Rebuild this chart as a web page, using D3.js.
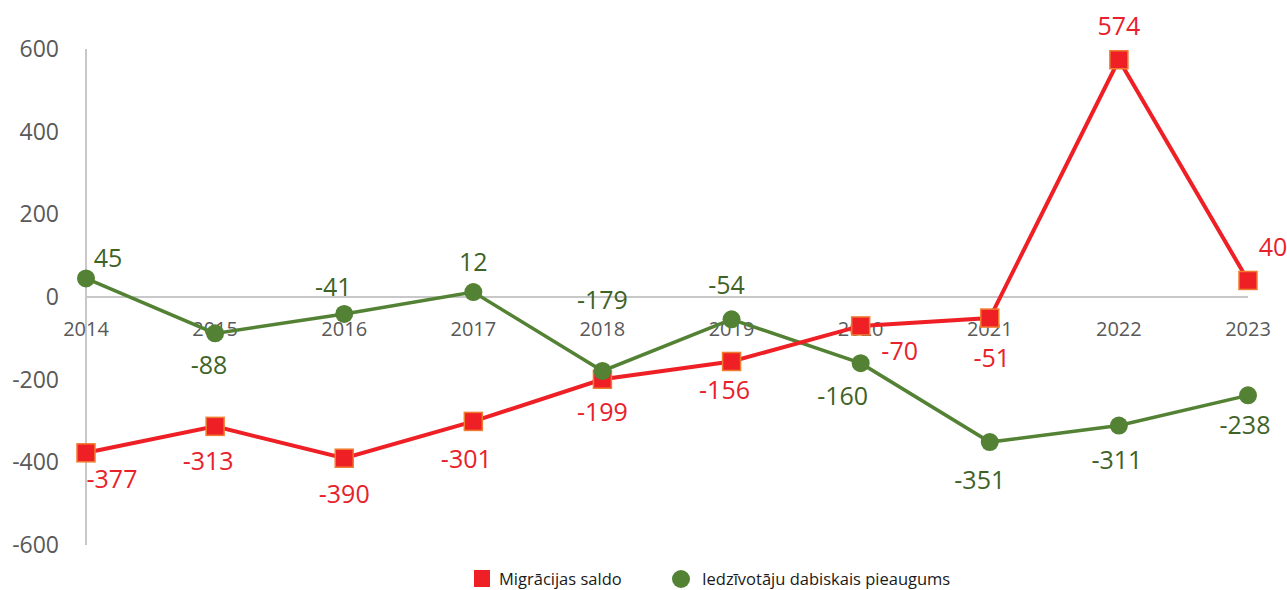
<!DOCTYPE html>
<html>
<head>
<meta charset="utf-8">
<script src="https://cdn.jsdelivr.net/npm/d3@7"></script>
<style>
  body { margin: 0; background: #fff; }
  svg { display: block; font-family: "Open Sans", sans-serif; }
</style>
</head>
<body>
<div id="chart"></div>
<script>
const years = [2014, 2015, 2016, 2017, 2018, 2019, 2020, 2021, 2022, 2023];
const migration = [-377, -313, -390, -301, -199, -156, -70, -51, 574, 40];
const natural = [45, -88, -41, 12, -179, -54, -160, -351, -311, -238];
const yTicks = [-600, -400, -200, 0, 200, 400, 600];

// label offsets (dx, dy) from each point
const migLabelPos = [[26, 26], [-7, 35], [0, 36], [-7, 38], [0, 33], [-7, 29], [39, 25], [2, 40], [0, -33], [25, -33]];
const natLabelPos = [[22, -20], [-6, 32], [-11, -27], [0, -30], [0, -71], [-5, -34], [-18, 33], [-10, 38], [-2, 35], [-3, 30]];

const width = 1287, height = 590;
const svg = d3.select("#chart").append("svg")
  .attr("width", width)
  .attr("height", height);

const x = d3.scalePoint().domain(years).range([86, 1248]);
const y = d3.scaleLinear().domain([-600, 600]).range([545, 49]);

// axes lines
svg.append("line")
  .attr("x1", x(2014)).attr("x2", x(2014))
  .attr("y1", y(600)).attr("y2", y(-600))
  .attr("stroke", "#c8c8c8").attr("stroke-width", 2);

svg.append("line")
  .attr("x1", x(2014)).attr("x2", x(2023))
  .attr("y1", y(0)).attr("y2", y(0))
  .attr("stroke", "#c8c8c8").attr("stroke-width", 2);

svg.append("g")
  .selectAll("text")
  .data(yTicks)
  .join("text")
  .attr("x", 59)
  .attr("y", d => y(d))
  .attr("dy", "0.35em")
  .attr("text-anchor", "end")
  .attr("font-size", "23px")
  .attr("fill", "#595959")
  .text(d => d);

svg.append("g")
  .selectAll("text")
  .data(years)
  .join("text")
  .attr("x", d => x(d))
  .attr("y", y(0) + 32)
  .attr("dy", "0.35em")
  .attr("text-anchor", "middle")
  .attr("font-size", "20px")
  .attr("fill", "#595959")
  .text(d => d);

const line = d3.line()
  .x((d, i) => x(years[i]))
  .y(d => y(d));

// natural growth (green) drawn first
svg.append("path")
  .datum(natural)
  .attr("d", line)
  .attr("fill", "none")
  .attr("stroke", "#548235")
  .attr("stroke-width", 3.5);

svg.append("path")
  .datum(migration)
  .attr("d", line)
  .attr("fill", "none")
  .attr("stroke", "#ee2026")
  .attr("stroke-width", 4);

svg.append("g")
  .selectAll("rect")
  .data(migration)
  .join("rect")
  .attr("x", (d, i) => x(years[i]) - 9)
  .attr("y", d => y(d) - 9)
  .attr("width", 18)
  .attr("height", 18)
  .attr("fill", "#ee2026")
  .attr("stroke", "#f07c30")
  .attr("stroke-width", 1.5);

svg.append("g")
  .selectAll("circle")
  .data(natural)
  .join("circle")
  .attr("cx", (d, i) => x(years[i]))
  .attr("cy", d => y(d))
  .attr("r", 9)
  .attr("fill", "#548235");

svg.append("g")
  .selectAll("text")
  .data(natural)
  .join("text")
  .attr("x", (d, i) => x(years[i]) + natLabelPos[i][0])
  .attr("y", (d, i) => y(d) + natLabelPos[i][1])
  .attr("dy", "0.35em")
  .attr("text-anchor", "middle")
  .attr("font-size", "25px")
  .attr("fill", "#3f6327")
  .text(d => d);

svg.append("g")
  .selectAll("text")
  .data(migration)
  .join("text")
  .attr("x", (d, i) => x(years[i]) + migLabelPos[i][0])
  .attr("y", (d, i) => y(d) + migLabelPos[i][1])
  .attr("dy", "0.35em")
  .attr("text-anchor", "middle")
  .attr("font-size", "25px")
  .attr("fill", "#e8212b")
  .text(d => d);

// legend
const legend = svg.append("g").attr("font-size", "16.5px").attr("fill", "#1a1a1a");
legend.append("rect")
  .attr("x", 474).attr("y", 570).attr("width", 16).attr("height", 17)
  .attr("fill", "#ee2026");
legend.append("text")
  .attr("x", 499).attr("y", 579).attr("dy", "0.35em")
  .text("Migrācijas saldo");
legend.append("circle")
  .attr("cx", 681).attr("cy", 579).attr("r", 9)
  .attr("fill", "#548235");
legend.append("text")
  .attr("x", 702).attr("y", 579).attr("dy", "0.35em")
  .text("Iedzīvotāju dabiskais pieaugums");
</script>
</body>
</html>
